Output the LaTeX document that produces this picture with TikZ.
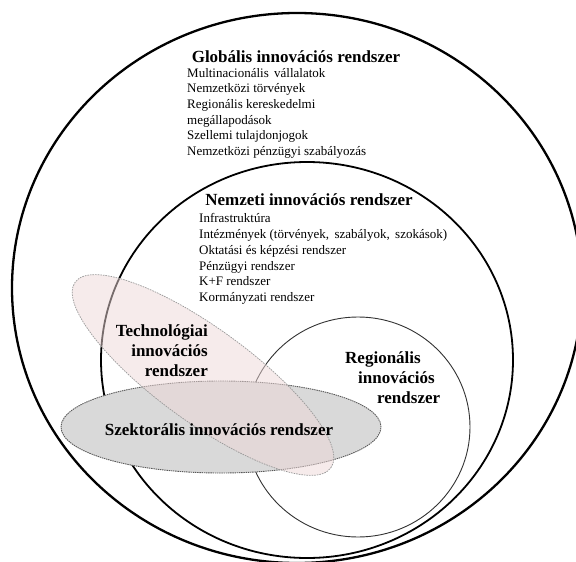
\documentclass[tikz,border=0pt]{standalone}
\usepackage{fontspec}
\setmainfont{Liberation Serif}
\definecolor{techpink}{RGB}{238,216,216}
\definecolor{sectorgray}{RGB}{217,217,217}
\tikzset{
  ring/.style={draw=black, line width=#1},
  title/.style={font=\bfseries\fontsize{17}{20}\selectfont, inner sep=0pt},
  items/.style={font=\fontsize{13}{#1}\selectfont, align=left, inner sep=0pt, anchor=north west},
  sectorshape/.style={fill=sectorgray, draw=black!65, line width=0.9pt, dash pattern=on 1.4pt off 0.8pt},
  techshape/.style={fill=techpink, fill opacity=0.5, draw=black!40, line width=0.7pt, dash pattern=on 1.6pt off 1pt},
}
\begin{document}
\begin{tikzpicture}[x=1pt,y=-1pt]
\useasboundingbox (0,0) rectangle (576,562);
\fill[white] (0,0) rectangle (576,562);

% nested system boundaries
\draw[ring=2.3pt] (297,288) ellipse [x radius=285pt, y radius=275pt];
\draw[ring=1.8pt] (307,360) ellipse [x radius=206pt, y radius=198pt];
\draw[draw=black!80, line width=0.9pt] (358,427) ellipse [x radius=112pt, y radius=110pt];

% sectoral and technological systems
\draw[sectorshape] (221,427) ellipse [x radius=160pt, y radius=46pt];
\draw[techshape, rotate around={-36:(203,375)}] (203,375) ellipse [x radius=158pt, y radius=47pt];

% global level
\node[title, anchor=base] (globt) at (296,62) {Globális innovációs rendszer};
\node[items=15.6] (globl) at (187,68) {Multinacionális\, vállalatok\\Nemzetközi törvények\\Regionális kereskedelmi\\megállapodások\\Szellemi tulajdonjogok\\Nemzetközi pénzügyi szabályozás};

% national level
\node[title, anchor=base] (natt) at (309,205) {Nemzeti innovációs rendszer};
\node[items=15.9] (natl) at (199,213) {Infrastruktúra\\Intézmények (törvények,\, szabályok,\, szokások)\\Oktatási és képzési rendszer\\Pénzügyi rendszer\\K+F rendszer\\Kormányzati rendszer};

% technological, regional and sectoral labels
\node[title, align=right, anchor=north east] (techt) at (208,324) {Technológiai\\innovációs\\rendszer};
\node[title, align=left, anchor=north west] (regt) at (345,351) {Regionális\\\hspace*{13pt}innovációs\\\hspace*{32pt}rendszer};
\node[title, anchor=base] (sect) at (219,435) {Szektorális innovációs rendszer};
\end{tikzpicture}
\end{document}
